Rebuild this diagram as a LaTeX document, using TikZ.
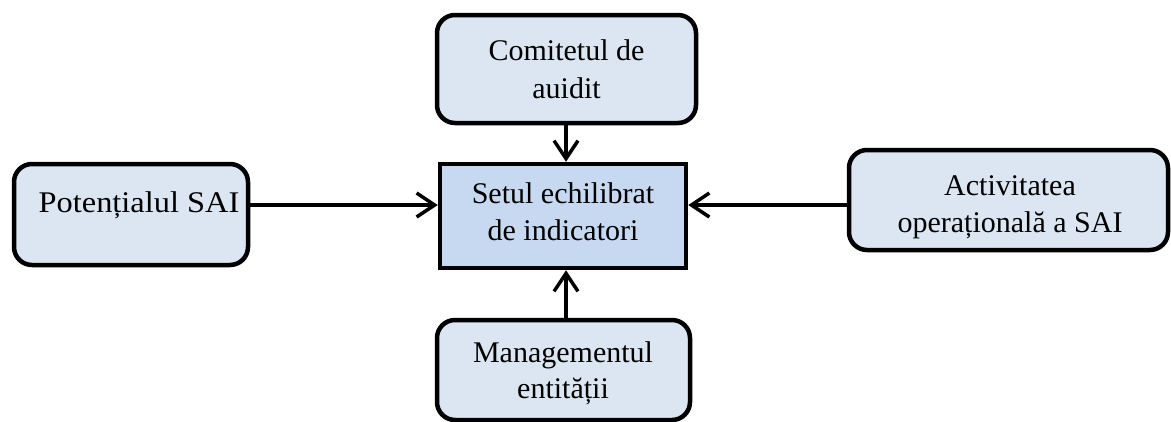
\documentclass[tikz,border=0pt]{standalone}
\usepackage{fontspec}
\setmainfont{Liberation Serif}
\usetikzlibrary{arrows.meta}
\definecolor{lightbox}{HTML}{DCE6F2}
\definecolor{mainbox}{HTML}{C6D9F1}
\tikzset{
  rbox/.style={draw=black, line width=4.5pt, fill=lightbox, rounded corners=18pt, inner sep=0pt},
  mbox/.style={draw=black, line width=4.5pt, fill=mainbox, inner sep=0pt},
  lbl/.style={align=center, font=\fontsize{30}{38}\selectfont, inner sep=0pt},
  conn/.style={line width=3.5pt, -{Straight Barb[length=18pt,width=24pt,line width=3.5pt]}}
}
\begin{document}
\begin{tikzpicture}[x=1pt,y=-1pt]
\useasboundingbox (0,0) rectangle (1171,421);
\clip (0,0) rectangle (1171,421);
% boxes (outer size minus line width)
\node[rbox, minimum width=259pt, minimum height=108pt] (com) at (566.5,69) {};
\node[mbox, minimum width=246pt, minimum height=104pt] (set) at (563,216) {};
\node[rbox, minimum width=253pt, minimum height=100pt] (man) at (563.5,370) {};
\node[rbox, minimum width=234pt, minimum height=101pt] (pot) at (131,214.5) {};
\node[rbox, minimum width=319pt, minimum height=100pt] (act) at (1008.5,200) {};
% labels
\node[lbl, anchor=base] (comA) at (566.5,60) {Comitetul de};
\node[lbl, anchor=base] (comB) at (566.5,98) {auidit};
\node[lbl, anchor=base] (setA) at (563,203) {Setul echilibrat};
\node[lbl, anchor=base] (setB) at (563,240) {de indicatori};
\node[lbl, anchor=base] (manA) at (563,362) {Managementul};
\node[lbl, anchor=base] (manB) at (563,398) {entității};
\node[lbl, anchor=base, xscale=1.08] (potA) at (139,212) {Potențialul SAI};
\node[lbl, anchor=base] (actA) at (1010,195) {Activitatea};
\node[lbl, anchor=base] (actB) at (1010,232) {operațională a SAI};
% connectors
\draw[conn] (pot.east |- 0,205) -- (set.west |- 0,205);
\draw[conn] (act.west |- 0,205) -- (set.east |- 0,205);
\draw[conn] (com.south -| 566,0) -- (set.north -| 566,0);
\draw[conn] (man.north -| 566,0) -- (set.south -| 566,0);
\end{tikzpicture}
\end{document}
